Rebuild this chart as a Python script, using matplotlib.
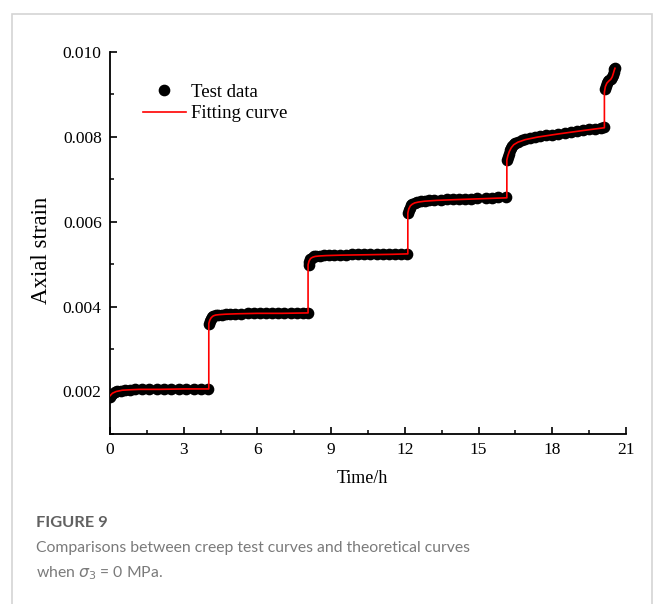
import numpy as np
import matplotlib
matplotlib.use("Agg")
import matplotlib.pyplot as plt
from matplotlib.ticker import MultipleLocator, FormatStrFormatter
from matplotlib.patches import Rectangle

# creep test readings, one list per loading stage (time in h, axial strain)
t_stage1 = [0.0, 0.05, 0.1, 0.2, 0.3, 0.45, 0.6, 0.8, 1.0, 1.3, 1.6, 1.9, 2.2,
            2.5, 2.8, 3.1, 3.4, 3.7, 4.0]
e_stage1 = [0.00188, 0.00192, 0.00195, 0.00198, 0.00200, 0.00202, 0.00203,
            0.00204, 0.00205, 0.00205, 0.00205, 0.00205, 0.00206, 0.00206,
            0.00206, 0.00206, 0.00206, 0.00206, 0.00206]
t_stage2 = [4.02, 4.05, 4.1, 4.15, 4.2, 4.3, 4.4, 4.55, 4.7, 4.9, 5.1, 5.35,
            5.6, 5.85, 6.1, 6.35, 6.6, 6.85, 7.1, 7.35, 7.6, 7.85, 8.05]
e_stage2 = [0.00360, 0.00366, 0.00371, 0.00375, 0.00377, 0.00379, 0.00380,
            0.00381, 0.00382, 0.00383, 0.00383, 0.00383, 0.00384, 0.00384,
            0.00384, 0.00384, 0.00384, 0.00385, 0.00385, 0.00385, 0.00385,
            0.00385, 0.00385]
t_stage3 = [8.08, 8.1, 8.15, 8.2, 8.3, 8.4, 8.55, 8.7, 8.9, 9.1, 9.35, 9.6,
            9.85, 10.1, 10.35, 10.6, 10.85, 11.1, 11.35, 11.6, 11.85, 12.1]
e_stage3 = [0.00498, 0.00505, 0.00511, 0.00515, 0.00518, 0.00519, 0.00520,
            0.00521, 0.00521, 0.00522, 0.00522, 0.00522, 0.00523, 0.00523,
            0.00523, 0.00523, 0.00524, 0.00524, 0.00524, 0.00524, 0.00524,
            0.00524]
t_stage4 = [12.14, 12.16, 12.2, 12.25, 12.3, 12.4, 12.5, 12.65, 12.8, 13.0,
            13.2, 13.45, 13.7, 13.95, 14.2, 14.45, 14.7, 14.95, 15.3, 15.55,
            15.8, 16.1]
e_stage4 = [0.00620, 0.00627, 0.00633, 0.00638, 0.00641, 0.00644, 0.00646,
            0.00648, 0.00649, 0.00650, 0.00651, 0.00652, 0.00653, 0.00653,
            0.00654, 0.00654, 0.00654, 0.00655, 0.00656, 0.00656, 0.00657,
            0.00657]
t_stage5 = [16.17, 16.19, 16.22, 16.26, 16.3, 16.36, 16.43, 16.5, 16.6, 16.75,
            16.9, 17.1, 17.3, 17.5, 17.75, 18.0, 18.25, 18.5, 18.75, 19.0,
            19.25, 19.5, 19.75, 20.0, 20.12]
e_stage5 = [0.00745, 0.00752, 0.00760, 0.00768, 0.00773, 0.00778, 0.00782,
            0.00785, 0.00788, 0.00791, 0.00794, 0.00797, 0.00799, 0.00801,
            0.00803, 0.00805, 0.00807, 0.00809, 0.00811, 0.00813, 0.00815,
            0.00817, 0.00819, 0.00821, 0.00823]
t_stage6 = [20.14, 20.17, 20.21, 20.26, 20.32, 20.38, 20.43, 20.47, 20.5,
            20.53, 20.55]
e_stage6 = [0.00912, 0.00920, 0.00926, 0.00930, 0.00933, 0.00936, 0.00940,
            0.00946, 0.00953, 0.00959, 0.00962]

# fitted model curve (vertical steps at each load increment)
t_fit = [0.0, 0.1, 0.25, 0.5, 0.8, 1.2, 2.0, 3.0, 4.02,
         4.02, 4.06, 4.12, 4.2, 4.3, 4.45, 4.7, 5.2, 6.0, 7.0, 8.06,
         8.06, 8.1, 8.16, 8.24, 8.35, 8.5, 8.8, 9.4, 10.5, 11.5, 12.12,
         12.12, 12.16, 12.22, 12.3, 12.4, 12.55, 12.8, 13.3, 14.2, 15.2, 16.15,
         16.15, 16.19, 16.25, 16.33, 16.43, 16.6, 16.9, 17.4, 18.2, 19.2, 20.12,
         20.12, 20.16, 20.22, 20.3, 20.38, 20.44, 20.48, 20.52, 20.55]
e_fit = [0.00190, 0.00196, 0.00200, 0.00203, 0.00204, 0.00205, 0.00205, 0.00206, 0.00206,
         0.00360, 0.00368, 0.00374, 0.00378, 0.00380, 0.00381, 0.00382, 0.00383, 0.00384, 0.00384, 0.00385,
         0.00498, 0.00507, 0.00513, 0.00516, 0.00518, 0.00519, 0.00520, 0.00521, 0.00522, 0.00523, 0.00524,
         0.00620, 0.00630, 0.00637, 0.00641, 0.00644, 0.00646, 0.00648, 0.00650, 0.00652, 0.00654, 0.00656,
         0.00745, 0.00755, 0.00765, 0.00774, 0.00781, 0.00787, 0.00793, 0.00799, 0.00806, 0.00814, 0.00821,
         0.00905, 0.00918, 0.00926, 0.00931, 0.00935, 0.00941, 0.00948, 0.00956, 0.00961]

t_test = t_stage1 + t_stage2 + t_stage3 + t_stage4 + t_stage5 + t_stage6
e_test = e_stage1 + e_stage2 + e_stage3 + e_stage4 + e_stage5 + e_stage6

serif = ["Liberation Serif", "DejaVu Serif"]
sans = ["Lato", "DejaVu Sans"]
plt.rcParams["font.family"] = serif
plt.rcParams["mathtext.fontset"] = "dejavusans"

fig = plt.figure(figsize=(6.58, 6.04), dpi=100)
fig.patches.append(Rectangle((12 / 658, -0.1), 640 / 658, 1 - 14 / 604 + 0.1,
                             transform=fig.transFigure, fill=False,
                             edgecolor="#d4d4d4", lw=1.2))

ax = fig.add_axes([0.1672, 0.2815, 0.7842, 0.6329])
ax.plot(t_test, e_test, "o", color="black", ms=7.4, label="Test data", zorder=2)
ax.plot(t_fit, e_fit, "-", color="red", lw=1.2, label="Fitting curve", zorder=3)

ax.set_xlim(0, 21)
ax.set_ylim(0.001, 0.010)
ax.xaxis.set_major_locator(MultipleLocator(3))
ax.xaxis.set_minor_locator(MultipleLocator(1.5))
ax.yaxis.set_major_locator(MultipleLocator(0.002))
ax.yaxis.set_minor_locator(MultipleLocator(0.001))
ax.yaxis.set_major_formatter(FormatStrFormatter("%.3f"))

for side in ["top", "right"]:
    ax.spines[side].set_visible(False)
for side in ["left", "bottom"]:
    ax.spines[side].set_linewidth(1.3)
ax.tick_params(which="major", direction="in", length=5, width=1.2, labelsize=12.5, pad=6)
ax.tick_params(which="minor", direction="in", length=3, width=1.1)

ax.set_xlabel("Time/h", fontsize=13)
ax.set_ylabel("Axial strain", fontsize=16.5)
ax.xaxis.set_label_coords(0.49, -0.094)
ax.yaxis.set_label_coords(-0.112, 0.481)

ax.legend(loc="upper left", bbox_to_anchor=(0.063, 0.917), frameon=False,
          fontsize=13.5, handlelength=2.3, handletextpad=0.3, labelspacing=0.25,
          borderpad=0, borderaxespad=0)

fig.text(36 / 658, 1 - 523 / 604, "FIGURE 9", fontsize=11.8, fontweight="bold",
         color="#616161", family=sans, va="center")
fig.text(36 / 658, 1 - 548 / 604,
         "Comparisons between creep test curves and theoretical curves",
         fontsize=11.3, color="#7a7a7a", family=sans, va="center")
fig.text(36 / 658, 1 - 573 / 604, r"when $\sigma_3$ = 0 MPa.",
         fontsize=11.3, color="#7a7a7a", family=sans, va="center")

fig.savefig("out.png", dpi=100)
